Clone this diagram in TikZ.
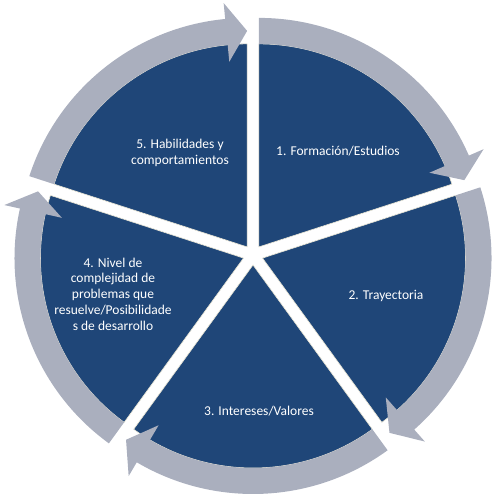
\documentclass[tikz,border=0pt]{standalone}
\usepackage{fontspec}
\setmainfont{Carlito}
\definecolor{segblue}{RGB}{31,70,120}
\definecolor{ringgray}{RGB}{170,175,190}
\definecolor{seamcream}{RGB}{236,232,214}

\begin{document}
\begin{tikzpicture}[x=1pt,y=1pt,
  segment/.style={fill=segblue, draw=seamcream, line width=0.6pt},
  ringarrow/.style={fill=ringgray},
  seglabel/.style={text=white, font=\fontsize{13.5}{15.8}\selectfont, align=center, inner sep=0pt}]
\useasboundingbox (0,0) rectangle (500,503);
\coordinate (O) at (253,248);

% five exploded pie segments, each pushed 10pt outwards along its bisector
\foreach \b in {54,-18,-90,-162,-234}{
  \pgfmathsetmacro\as{\b+36}
  \pgfmathsetmacro\ae{\b-36}
  \begin{scope}[shift={(O)}, shift={(\b:10pt)}]
    \path[segment] (0,0) -- (\ae:203pt)
      arc[start angle=\ae, end angle=\as, radius=203pt] -- cycle;
  \end{scope}
}

% clockwise arc arrows riding on the rim of each segment
\foreach \b in {54,-18,-90,-162,-234}{
  \pgfmathsetmacro\as{\b+36}
  \pgfmathsetmacro\ae{\b-36}
  \pgfmathsetmacro\ah{\b-36+5.5}
  \begin{scope}[shift={(O)}, shift={(\b:10pt)}]
    \fill[ringarrow] (\as:203pt)
      arc[start angle=\as, end angle=\ah, radius=203pt]
      -- (\ah:186pt) -- (\ae:216pt) -- (\ah:245pt) -- (\ah:229pt)
      arc[start angle=\ah, end angle=\as, radius=229pt] -- cycle;
  \end{scope}
}

\node[seglabel] (l1) at (338,352) {1. Formación/Estudios};
\node[seglabel] (l2) at (386,207) {2. Trayectoria};
\node[seglabel] (l3) at (259,92) {3. Intereses/Valores};
\node[seglabel] (l4) at (113,209) {4. Nivel de\\complejidad de\\problemas que\\resuelve/Posibilidade\\s de desarrollo};
\node[seglabel] (l5) at (180,350) {5. Habilidades y\\comportamientos};
\end{tikzpicture}
\end{document}
